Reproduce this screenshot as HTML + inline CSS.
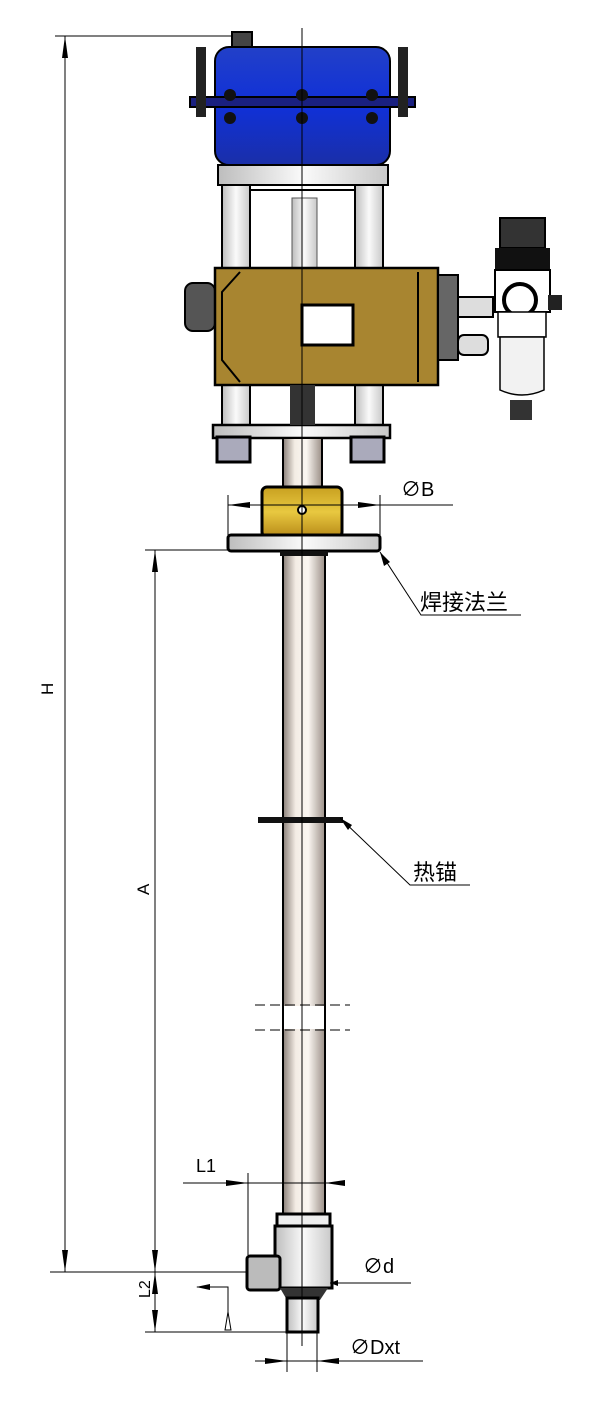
<!DOCTYPE html>
<html><head><meta charset="utf-8"><style>
html,body{margin:0;padding:0;background:#fff}
svg{display:block}
text{font-family:"Liberation Sans","Noto Sans CJK SC",sans-serif;fill:#000}
</style></head><body>
<svg width="600" height="1406" viewBox="0 0 600 1406" xmlns="http://www.w3.org/2000/svg">
<defs>
<linearGradient id="pipe" x1="0" x2="1"><stop offset="0" stop-color="#8a7f78"/><stop offset="0.3" stop-color="#f3ece4"/><stop offset="0.6" stop-color="#fbf7f2"/><stop offset="1" stop-color="#9a8e86"/></linearGradient>
<linearGradient id="blue" x1="0" x2="0" y1="0" y2="1"><stop offset="0" stop-color="#2240c8"/><stop offset="0.5" stop-color="#1030d8"/><stop offset="1" stop-color="#1a2fa8"/></linearGradient>
<linearGradient id="gold" x1="0" x2="0" y1="0" y2="1"><stop offset="0" stop-color="#c8a020"/><stop offset="0.5" stop-color="#e8c840"/><stop offset="1" stop-color="#b88a18"/></linearGradient>
<linearGradient id="col" x1="0" x2="1"><stop offset="0" stop-color="#bdbdbd"/><stop offset="0.5" stop-color="#fafafa"/><stop offset="1" stop-color="#c8c8c8"/></linearGradient>
</defs>

<!-- H dimension -->
<line x1="55" y1="36" x2="232" y2="36" stroke="#000"/>
<line x1="50" y1="1272" x2="262" y2="1272" stroke="#000"/>
<line x1="65" y1="36" x2="65" y2="1272" stroke="#000"/>
<polygon points="65,36 62,58 68,58"/><polygon points="65,1272 62,1250 68,1250"/>
<text x="52" y="706" font-size="17" transform="rotate(-90 47 700)">H</text>

<!-- A dimension -->
<line x1="145" y1="550" x2="230" y2="550" stroke="#000"/>
<line x1="155" y1="550" x2="155" y2="1332" stroke="#000"/>
<polygon points="155,550 152,572 158,572"/><polygon points="155,1272 152,1250 158,1250"/>
<polygon points="155,1272 152,1294 158,1294"/><polygon points="155,1332 152,1310 158,1310"/>
<text x="148" y="906" font-size="17" transform="rotate(-90 143 900)">A</text>
<text x="148" y="1310" font-size="16" transform="rotate(-90 143 1303)">L2</text>
<line x1="145" y1="1332" x2="290" y2="1332" stroke="#000"/>

<!-- actuator -->
<rect x="232" y="32" width="20" height="16" fill="#444" stroke="#000" stroke-width="2"/>
<rect x="215" y="47" width="175" height="118" rx="14" fill="url(#blue)" stroke="#000" stroke-width="2"/>
<rect x="190" y="97" width="225" height="10" fill="#1a2080" stroke="#000" stroke-width="2"/>
<rect x="196" y="47" width="10" height="70" fill="#222"/>
<rect x="398" y="47" width="10" height="70" fill="#222"/>
<circle cx="230" cy="95" r="6" fill="#111"/><circle cx="302" cy="95" r="6" fill="#111"/><circle cx="372" cy="95" r="6" fill="#111"/>
<circle cx="230" cy="118" r="6" fill="#111"/><circle cx="302" cy="118" r="6" fill="#111"/><circle cx="372" cy="118" r="6" fill="#111"/>
<rect x="218" y="165" width="170" height="20" fill="url(#col)" stroke="#000" stroke-width="2"/>
<rect x="222" y="185" width="28" height="85" fill="url(#col)" stroke="#000" stroke-width="2"/>
<rect x="355" y="185" width="28" height="85" fill="url(#col)" stroke="#000" stroke-width="2"/>
<rect x="250" y="190" width="105" height="80" fill="#fff" stroke="#000" stroke-width="2"/>
<rect x="292" y="198" width="25" height="72" fill="url(#col)" stroke="#555"/>
<rect x="222" y="383" width="28" height="45" fill="url(#col)" stroke="#000" stroke-width="2"/>
<rect x="355" y="383" width="28" height="45" fill="url(#col)" stroke="#000" stroke-width="2"/>

<!-- positioner box -->
<rect x="185" y="283" width="30" height="48" rx="8" fill="#555" stroke="#000" stroke-width="2"/>
<rect x="215" y="268" width="223" height="117" fill="#a88530" stroke="#000" stroke-width="2.5"/>
<polyline points="240,272 222,292 222,360 240,382" fill="none" stroke="#000" stroke-width="2"/>
<line x1="418" y1="272" x2="418" y2="382" stroke="#000" stroke-width="2"/>
<rect x="302" y="305" width="51" height="40" fill="#fff" stroke="#000" stroke-width="3"/>
<rect x="438" y="275" width="20" height="85" fill="#666" stroke="#000" stroke-width="2"/>
<rect x="458" y="297" width="35" height="20" fill="#ddd" stroke="#000" stroke-width="2"/>
<rect x="458" y="335" width="30" height="20" rx="6" fill="#ddd" stroke="#000" stroke-width="2"/>

<!-- filter regulator -->
<rect x="500" y="218" width="45" height="30" fill="#333" stroke="#000" stroke-width="2"/>
<rect x="495" y="248" width="55" height="22" fill="#111"/>
<rect x="495" y="270" width="55" height="42" fill="#fff" stroke="#000" stroke-width="2"/>
<circle cx="520" cy="300" r="16" fill="#fff" stroke="#000" stroke-width="4"/>
<rect x="548" y="295" width="14" height="15" fill="#222"/>
<rect x="498" y="312" width="48" height="25" fill="#fff" stroke="#000" stroke-width="1.5"/>
<path d="M500 337 L544 337 L544 390 Q522 400 500 390 Z" fill="#f2f2f2" stroke="#000" stroke-width="1.5"/>
<rect x="510" y="400" width="22" height="20" fill="#333"/>

<!-- base plate -->
<rect x="213" y="425" width="177" height="13" fill="url(#col)" stroke="#000" stroke-width="2.5"/>
<rect x="217" y="437" width="33" height="25" fill="#aab" stroke="#000" stroke-width="3"/>
<rect x="351" y="437" width="33" height="25" fill="#aab" stroke="#000" stroke-width="3"/>
<rect x="290" y="385" width="25" height="40" fill="#333"/>

<!-- stem & coupling -->
<rect x="283" y="438" width="39" height="50" fill="url(#pipe)" stroke="#000" stroke-width="2"/>
<rect x="262" y="487" width="80" height="50" rx="5" fill="url(#gold)" stroke="#000" stroke-width="3"/>
<circle cx="302" cy="510" r="4" fill="#fff" stroke="#000" stroke-width="2"/>
<rect x="228" y="535" width="152" height="16" rx="3" fill="url(#col)" stroke="#000" stroke-width="3"/>

<!-- pipe -->
<rect x="283" y="551" width="42" height="665" fill="url(#pipe)" stroke="#000" stroke-width="2"/>
<rect x="280" y="551" width="48" height="5" fill="#111"/>
<!-- heat anchor -->
<rect x="258" y="817" width="85" height="6" fill="#111"/>
<!-- break marks -->
<line x1="255" y1="1005" x2="350" y2="1005" stroke="#000" stroke-dasharray="10,5"/>
<line x1="255" y1="1030" x2="350" y2="1030" stroke="#000" stroke-dasharray="10,5"/>
<rect x="284" y="1006" width="40" height="23" fill="#fff"/>

<!-- valve body -->
<rect x="277" y="1214" width="53" height="12" fill="#eee" stroke="#000" stroke-width="3"/>
<rect x="275" y="1226" width="57" height="62" fill="url(#col)" stroke="#000" stroke-width="3"/>
<rect x="247" y="1256" width="33" height="34" rx="3" fill="#bbb" stroke="#000" stroke-width="3"/>
<path d="M280 1288 L328 1288 L320 1300 L287 1300 Z" fill="#333"/>
<rect x="287" y="1298" width="31" height="34" fill="url(#col)" stroke="#000" stroke-width="3"/>

<!-- centre line -->
<line x1="302" y1="28" x2="302" y2="1346" stroke="#000" stroke-width="1"/>

<!-- ØB -->
<line x1="228" y1="495" x2="228" y2="535" stroke="#000"/>
<line x1="380" y1="495" x2="380" y2="535" stroke="#000"/>
<line x1="228" y1="505" x2="453" y2="505" stroke="#000"/>
<polygon points="228,505 250,502 250,508"/><polygon points="380,505 358,502 358,508"/>
<text x="401" y="496" font-size="20">∅B</text>

<!-- 焊接法兰 -->
<polyline points="380,552 421,615 521,615" fill="none" stroke="#000"/>
<polygon points="380,552 384,566 390,562"/>
<text x="420" y="610" font-size="22">焊接法兰</text>

<!-- 热锚 -->
<polyline points="340,818 410,885 470,885" fill="none" stroke="#000"/>
<polygon points="340,818 348,830 352,825"/>
<text x="413" y="880" font-size="22">热锚</text>

<!-- L1 -->
<line x1="248" y1="1173" x2="248" y2="1255" stroke="#000"/>
<line x1="183" y1="1183" x2="336" y2="1183" stroke="#000"/>
<polygon points="248,1183 226,1180 226,1186"/><polygon points="325,1183 345,1180 345,1186"/>
<text x="196" y="1172" font-size="18">L1</text>

<!-- Ød -->
<line x1="330" y1="1283" x2="411" y2="1283" stroke="#000"/>
<polygon points="330,1283 338,1280 338,1286"/>
<text x="363" y="1273" font-size="20">∅d</text>

<!-- flow arrow -->
<polyline points="197,1287 228,1287 228,1322" fill="none" stroke="#000"/>
<polygon points="196,1287 210,1284 210,1290"/>
<polygon points="228,1312 225,1330 231,1330" fill="#fff" stroke="#000"/>

<!-- ØDxt -->
<line x1="287" y1="1332" x2="287" y2="1372" stroke="#000"/>
<line x1="317" y1="1332" x2="317" y2="1372" stroke="#000"/>
<line x1="255" y1="1361" x2="423" y2="1361" stroke="#000"/>
<polygon points="287,1361 265,1358 265,1364"/><polygon points="317,1361 339,1358 339,1364"/>
<text x="350" y="1354" font-size="20">∅Dxt</text>
</svg>
</body></html>
